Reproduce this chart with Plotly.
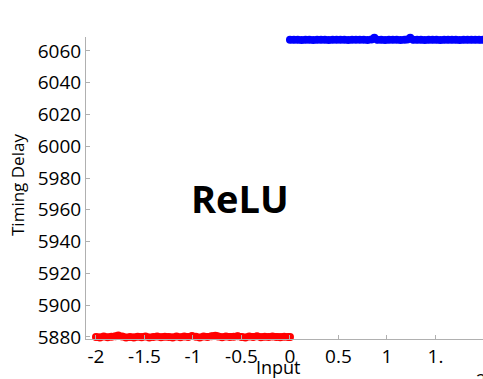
import plotly.graph_objects as go

# Timing delay measured for negative inputs (output clamped to zero)
neg_input = [-2.00, -1.96, -1.92, -1.88, -1.84, -1.80, -1.77, -1.73, -1.69, -1.65,
             -1.61, -1.57, -1.53, -1.49, -1.45, -1.41, -1.37, -1.33, -1.29, -1.25,
             -1.21, -1.17, -1.13, -1.09, -1.05, -1.01, -0.97, -0.93, -0.89, -0.85,
             -0.81, -0.77, -0.74, -0.70, -0.66, -0.62, -0.58, -0.54, -0.50, -0.46,
             -0.42, -0.38, -0.34, -0.30, -0.26, -0.22, -0.18, -0.14, -0.10, -0.06,
             -0.02, 0.00]
neg_delay = [5880.0, 5879.6, 5880.2, 5879.8, 5880.1, 5880.4, 5880.9, 5880.2, 5879.7, 5880.0,
             5879.6, 5880.1, 5879.8, 5880.2, 5879.7, 5880.0, 5880.3, 5879.8, 5880.1, 5880.0,
             5879.7, 5880.2, 5879.8, 5880.3, 5879.9, 5880.6, 5880.1, 5879.7, 5880.2, 5879.9,
             5880.4, 5880.8, 5880.2, 5879.8, 5880.3, 5879.9, 5880.1, 5880.5, 5880.0, 5879.7,
             5880.2, 5880.0, 5880.4, 5879.8, 5880.1, 5879.9, 5880.2, 5880.0, 5879.8, 5880.1,
             5880.0, 5880.0]

# Timing delay measured for positive inputs
pos_input = [0.00, 0.04, 0.08, 0.12, 0.16, 0.20, 0.24, 0.28, 0.32, 0.36,
             0.40, 0.44, 0.48, 0.52, 0.56, 0.60, 0.64, 0.68, 0.72, 0.76,
             0.80, 0.84, 0.87, 0.90, 0.94, 0.98, 1.02, 1.06, 1.10, 1.14,
             1.18, 1.21, 1.24, 1.27, 1.31, 1.35, 1.39, 1.43, 1.47, 1.51,
             1.55, 1.59, 1.63, 1.67, 1.71, 1.75, 1.79, 1.83, 1.87, 1.91,
             1.95, 1.99]
pos_delay = [6067.0, 6067.0, 6067.1, 6066.9, 6067.0, 6067.1, 6066.9, 6067.0, 6067.0, 6067.1,
             6066.9, 6067.0, 6067.0, 6067.1, 6067.0, 6066.9, 6067.0, 6067.1, 6067.0, 6067.0,
             6066.9, 6067.2, 6068.3, 6067.1, 6067.0, 6066.9, 6067.0, 6067.1, 6067.0, 6066.9,
             6067.0, 6067.2, 6068.3, 6067.1, 6067.0, 6067.0, 6066.9, 6067.0, 6067.1, 6067.0,
             6066.9, 6067.0, 6067.0, 6067.1, 6067.0, 6066.9, 6067.0, 6067.0, 6067.1, 6067.0,
             6067.0, 6067.0]

x_ticks = [-2, -1.5, -1, -0.5, 0, 0.5, 1, 1.5]
x_tick_text = ["-2", "-1.5", "-1", "-0.5", "0", "0.5", "1", "1."]
y_ticks = [5880, 5900, 5920, 5940, 5960, 5980, 6000, 6020, 6040, 6060]

FONT = "Open Sans"
L, R, T, B, W, H = 86, 0, 37, 40, 483, 379
PW, PH = W - L - R, H - T - B


def px_x(p):
    """Paper x coordinate for a pixel column."""
    return (p - L) / PW


def px_y(p):
    """Paper y coordinate for a pixel row."""
    return (H - B - p) / PH


fig = go.Figure()
fig.add_trace(go.Scatter(
    x=neg_input, y=neg_delay, mode="lines+markers",
    line=dict(color="#ff0000", width=7),
    marker=dict(color="#ff0000", size=8),
    cliponaxis=False, showlegend=False,
))
fig.add_trace(go.Scatter(
    x=pos_input, y=pos_delay, mode="lines+markers",
    line=dict(color="#0000ff", width=7),
    marker=dict(color="#0000ff", size=8),
    cliponaxis=False, showlegend=False,
))

fig.update_layout(
    width=W, height=H,
    margin=dict(l=L, r=R, t=T, b=B),
    paper_bgcolor="white", plot_bgcolor="white",
    font=dict(family=FONT, color="black", size=19),
    annotations=[
        dict(text="<b>ReLU</b>", x=px_x(240), y=px_y(198), xref="paper", yref="paper",
             xanchor="center", yanchor="middle",
             showarrow=False, font=dict(size=38, family=FONT)),
        dict(text="Timing Delay", x=px_x(18), y=px_y(185), xref="paper", yref="paper",
             xanchor="center", yanchor="middle",
             textangle=-90, showarrow=False, font=dict(size=17, family=FONT)),
        dict(text="Input", x=px_x(278), y=px_y(367), xref="paper", yref="paper",
             xanchor="center", yanchor="middle", showarrow=False,
             font=dict(size=18, family=FONT)),
        dict(text="2", x=px_x(481), y=px_y(380), xref="paper", yref="paper",
             xanchor="center", yanchor="middle", showarrow=False,
             font=dict(size=18, family=FONT)),
    ],
)

fig.update_xaxes(
    range=[-2.103, 1.99], tickvals=x_ticks, ticktext=x_tick_text,
    showgrid=False, zeroline=False, showline=True, linecolor="#b0b0b0", linewidth=1,
    ticks="inside", ticklen=4, tickcolor="#b0b0b0",
    tickfont=dict(size=19, family=FONT),
)
fig.update_yaxes(
    range=[5878.7, 6068.8], tickvals=y_ticks,
    showgrid=False, zeroline=False, showline=True, linecolor="#b0b0b0", linewidth=1,
    ticks="inside", ticklen=4, tickcolor="#b0b0b0",
    tickfont=dict(size=19, family=FONT),
)

fig.write_html("out.html")
